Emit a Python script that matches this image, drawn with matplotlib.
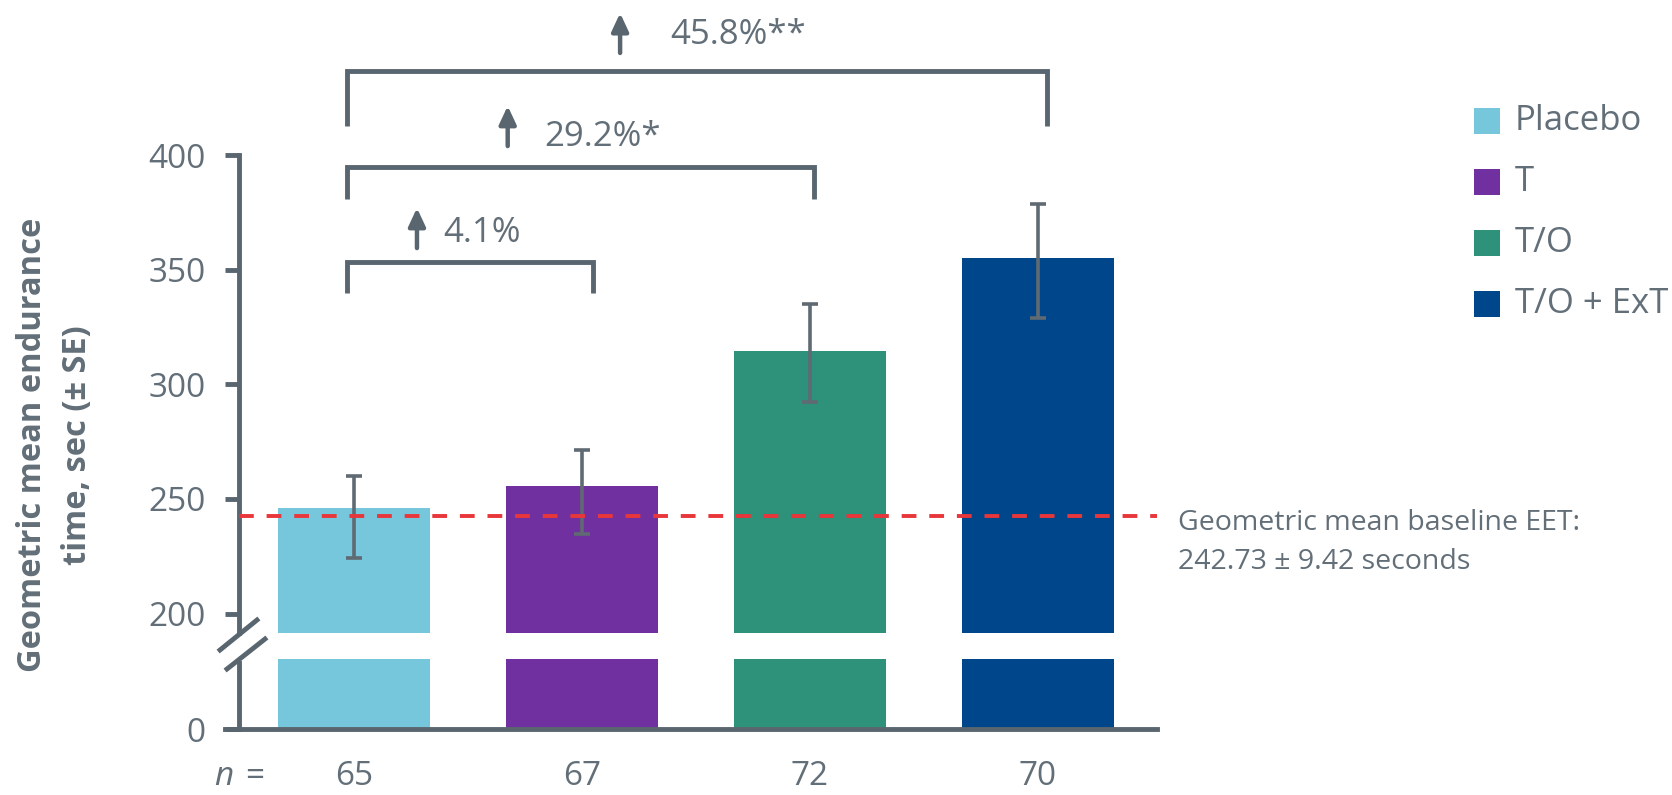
import matplotlib
matplotlib.use("Agg")
import matplotlib.pyplot as plt
from matplotlib.patches import Rectangle
from matplotlib.lines import Line2D

plt.rcParams['font.family'] = ['Open Sans', 'DejaVu Sans']

# ---- data ----
groups = ["Placebo", "T", "T/O", "T/O + ExT"]
n_per_group = ["65", "67", "72", "70"]
geo_mean = [245.9, 255.7, 314.7, 354.9]
se_upper = [260.2, 271.4, 335.0, 378.6]
se_lower = [224.4, 234.7, 292.4, 329.0]
baseline_eet = 242.73
baseline_se = 9.42
comparisons = [(0, 1, "4.1%"), (0, 2, "29.2%*"), (0, 3, "45.8%**")]

colors = ["#76C6DC", "#7030A0", "#2E917A", "#00468A"]
GREY = "#59666F"
TEXT = "#636F78"
RED = "#E8363A"

W, H = 1672, 795
fig = plt.figure(figsize=(W / 100, H / 100), dpi=100)


def fx(px):
    return px / W


def fy(py):
    return 1 - py / H


left, right = 225, 1157
ax_hi = fig.add_axes([fx(left), fy(633.3), fx(right) - fx(left), (633.3 - 155) / H])
ax_lo = fig.add_axes([fx(left), fy(729), fx(right) - fx(left), (729 - 659.3) / H])

x = list(range(len(groups)))
xlim = (-0.566, 3.522)
spine_x = -0.504

for ax in (ax_hi, ax_lo):
    ax.bar(x, geo_mean, width=0.667, color=colors, zorder=2)
    ax.set_xlim(*xlim)
    for s in ("top", "right"):
        ax.spines[s].set_visible(False)
    ax.spines["left"].set_position(("data", spine_x))
    ax.spines["left"].set_color(GREY)
    ax.spines["left"].set_linewidth(3.5)
    ax.tick_params(axis="y", direction="out", length=10, width=3.5, color=GREY,
                   labelsize=24, labelcolor=TEXT, pad=14)
    ax.set_facecolor("none")

# upper panel
ax_hi.set_ylim(191.4, 400)
ax_hi.set_yticks([200, 250, 300, 350, 400])
ax_hi.spines["bottom"].set_visible(False)
ax_hi.set_xticks([])
ax_hi.errorbar(x, geo_mean,
               yerr=[[m - lo for m, lo in zip(geo_mean, se_lower)],
                     [hi - m for m, hi in zip(geo_mean, se_upper)]],
               fmt="none", ecolor="#5F6A72", elinewidth=2.6, capsize=6, capthick=2.6,
               zorder=3)
ax_hi.hlines(baseline_eet, spine_x, xlim[1], colors=RED, linewidth=2.8,
             linestyles=(0, (3.8, 3.3)), zorder=4)

# lower panel
ax_lo.set_ylim(0, 30.4)
ax_lo.set_yticks([0])
ax_lo.spines["left"].set_bounds(0, 28.8)
ax_lo.spines["bottom"].set_color(GREY)
ax_lo.spines["bottom"].set_linewidth(3.5)
ax_lo.set_xticks(x)
ax_lo.set_xticklabels(n_per_group)
ax_lo.tick_params(axis="x", length=0, labelsize=24, labelcolor=TEXT, pad=22)

# "n =" row label, sharing the top of the tick labels
fig.canvas.draw()
tick_lbl = ax_lo.get_xticklabels()[0]
bb = tick_lbl.get_window_extent()
row_top = bb.y1 / fig.dpi / fig.get_figheight()
fig.text(fx(214), row_top, "n", fontsize=24, color=TEXT, style="italic",
         ha="left", va="top")
fig.text(fx(245), row_top, "=", fontsize=24, color=TEXT, ha="left", va="top")

# axis break marks
for (x0, y0, x1, y1) in [(220, 650, 257, 620), (227, 669, 265, 639)]:
    fig.add_artist(Line2D([fx(x0), fx(x1)], [fy(y0), fy(y1)], color=GREY,
                          linewidth=3.5, transform=fig.transFigure))

# comparison brackets with percentage increase
bracket_levels = [(353.3, 339.8), (394.9, 380.8), (436.8, 412.6)]
right_offsets = [0.048, 0.017, 0.039]
arrow_x = [0.276, 0.674, 1.167]
arrow_span = [(359.4, 376.9), (403.9, 421.4), (444.5, 461.9)]
label_x = [0.39, 0.833, 1.386]
label_y = [366.0, 407.8, 452.3]
for (i, j, txt), (top, leg), roff, ax_x, (a0, a1), lx, ly in zip(
        comparisons, bracket_levels, right_offsets, arrow_x, arrow_span, label_x, label_y):
    xl, xr = x[i] - 0.029, x[j] + roff
    ax_hi.plot([xl, xl, xr, xr], [leg, top, top, leg], color=GREY, linewidth=3.5,
               solid_joinstyle="miter", solid_capstyle="butt", clip_on=False)
    ax_hi.annotate("", xy=(ax_x, a1), xytext=(ax_x, a0),
                   arrowprops=dict(arrowstyle="-|>,head_width=0.42,head_length=0.9",
                                   color=GREY, lw=3.2, mutation_scale=12,
                                   shrinkA=0, shrinkB=0),
                   annotation_clip=False)
    ax_hi.text(lx, ly, txt, fontsize=25, color=TEXT, ha="left", va="center",
               clip_on=False)

# baseline note
ax_hi.text(3.614, 231.0,
           f"Geometric mean baseline EET:\n{baseline_eet:.2f} ± {baseline_se:.2f} seconds",
           fontsize=20.5, color=TEXT, ha="left", va="center", linespacing=1.5,
           clip_on=False)

# y-axis title
fig.text(fx(55), fy(445), "Geometric mean endurance\ntime, sec (± SE)",
         rotation=90, ha="center", va="center", fontsize=23.5, fontweight="bold",
         color=TEXT, linespacing=1.45, multialignment="center")

# legend
for k, (g, c) in enumerate(zip(groups, colors)):
    cy = 120.7 + 61.1 * k
    fig.add_artist(Rectangle((fx(1474), fy(cy + 13)), 26 / W, 26 / H,
                             facecolor=c, edgecolor="none", transform=fig.transFigure))
    fig.text(fx(1515), fy(cy), g, fontsize=25, color=TEXT, ha="left", va="center")

fig.savefig("out.png", dpi=100)
